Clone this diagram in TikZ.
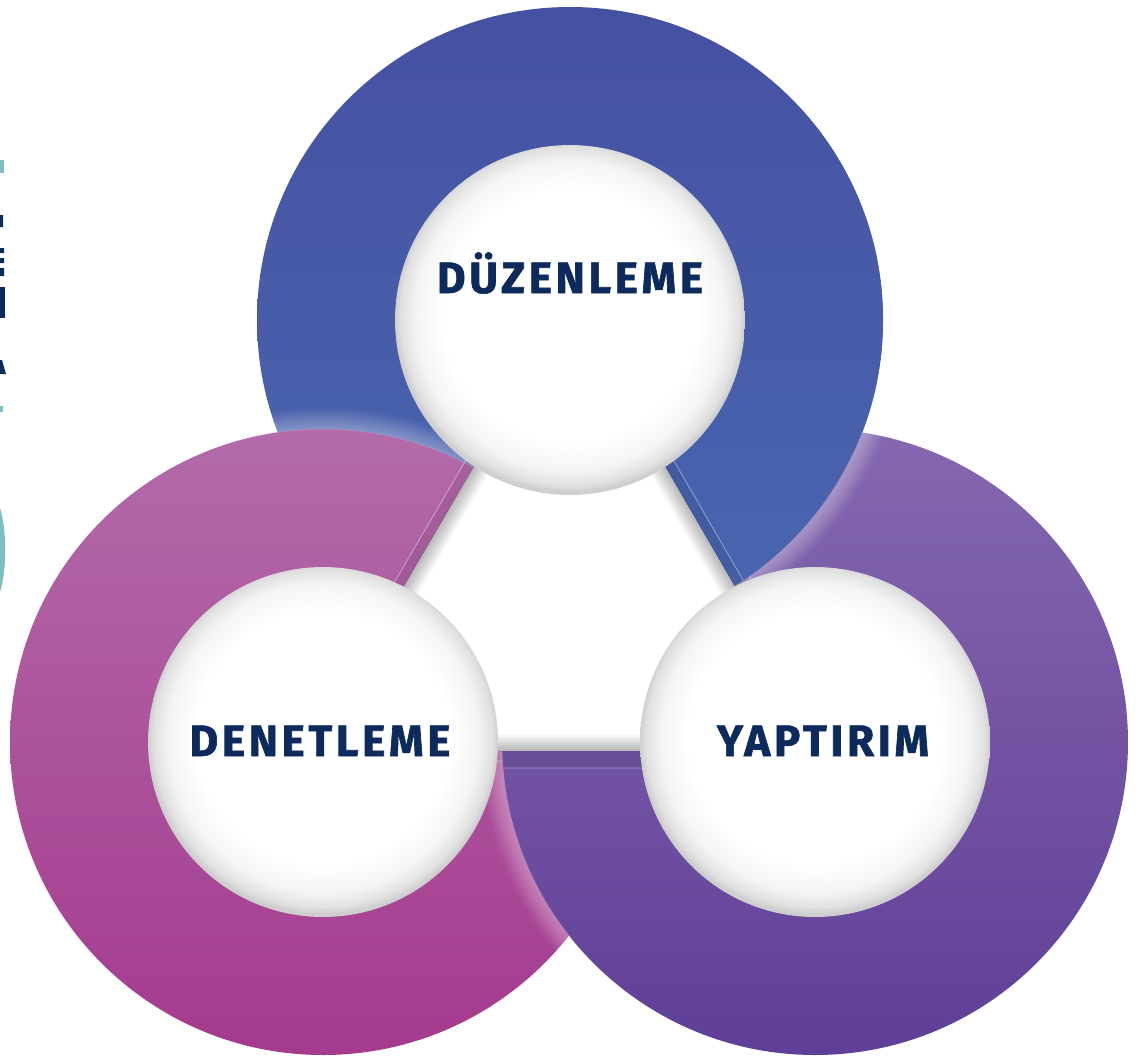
\documentclass[tikz,border=0pt]{standalone}
\usepackage{fontspec}
\setmainfont{Fira Sans}
\usetikzlibrary{calc}

\definecolor{duzTop}{HTML}{4551A1}
\definecolor{duzBot}{HTML}{4A67B1}
\definecolor{denTop}{HTML}{B36BAA}
\definecolor{denBot}{HTML}{A53A8F}
\definecolor{yapTop}{HTML}{8568AF}
\definecolor{yapBot}{HTML}{5F3F97}
\definecolor{navy}{HTML}{0C2A5B}
\definecolor{sea}{HTML}{7CBEC3}

\pgfdeclareradialshading{sphere}{\pgfpoint{0bp}{1bp}}{color(0bp)=(white); color(18bp)=(white); color(22bp)=(black!4); color(24.2bp)=(black!12); color(25bp)=(black!19); color(50bp)=(black!19)}

% one ring: centre, top colour, bottom colour, fold factor
\newcommand\ring[4]{%
  \begin{scope}[even odd rule]
    \clip (#1) circle[radius=313];
    \clip (-50,-50) rectangle (1200,1110) (tTop) -- (tLeft) -- (tRight) -- cycle;
    \shade[top color=#2, bottom color=#3] ($(#1)+(-313,-313)$) rectangle ($(#1)+(313,313)$);
    \fill[black, opacity=.07] ($(g)!#4!(tTop)$) -- ($(g)!#4!(tLeft)$) -- ($(g)!#4!(tRight)$) -- cycle;
    \draw[white, opacity=.4, line width=.5pt] ($(g)!#4!(tTop)$) -- ($(g)!#4!(tLeft)$) -- ($(g)!#4!(tRight)$) -- cycle;
  \end{scope}}

% glassy rim of the upper ring over the lower one
\newcommand\glint[2]{%
  \begin{scope}[even odd rule]
    \clip (#2) circle[radius=313];
    \clip (-50,-50) rectangle (1200,1110) (tTop) -- (tLeft) -- (tRight) -- cycle;
    \foreach \k/\o in {1/.30,2/.27,3/.24,4/.21,5/.17,6/.13,7/.09,8/.05,9/.02}
      \draw[white, opacity=\o, line width=.05cm] (#1) circle[radius=311.5+2.5*\k];
  \end{scope}}

\begin{document}
\begin{tikzpicture}[x=0.02cm,y=-0.02cm,
    ball/.style={circle, minimum size=7cm, inner sep=0pt, shade, shading=sphere},
    word/.style={font=\fontsize{25}{25}\selectfont\bfseries\addfontfeatures{LetterSpace=8.5,FakeBold=1.4}, text=navy, anchor=base, inner sep=0pt}]
  \useasboundingbox (0,0) rectangle (1147,1059);

  \coordinate (cDuz) at (570,320);
  \coordinate (cDen) at (323,742);
  \coordinate (cYap) at (815,742);
  \coordinate (tTop) at (570,302);
  \coordinate (tLeft) at (307.4,751);
  \coordinate (tRight) at (830.6,751);
  \coordinate (g) at (569.3,601.3);

  % rings, each one over the next
  \ring{cDuz}{duzTop}{duzBot}{1.0668}
  \ring{cDen}{denTop}{denBot}{1.0668}
  \glint{cDen}{cDuz}
  \ring{cYap}{yapTop}{yapBot}{1.1136}
  \glint{cYap}{cDen}
  \begin{scope}
    \clip (640,0) rectangle (1147,700);
    \ring{cDuz}{duzTop}{duzBot}{1.0668}
  \end{scope}
  \glint{cDuz}{cYap}

  % shadow in the middle gap
  \foreach \k in {0,...,7}{
    \pgfmathsetmacro\f{(148.7-2*\k)/149.7}
    \pgfmathsetmacro\o{0.26-0.032*\k}
    \draw[black, opacity=\o, line width=.04cm] ($(g)!\f!(tTop)$) -- ($(g)!\f!(tLeft)$) -- ($(g)!\f!(tRight)$) -- cycle;
  }

  \node[ball] (duz) at (cDuz) {};
  \node[ball] (den) at (cDen) {};
  \node[ball] (yap) at (cYap) {};

  \node[word] (duzWord) at (570,293) {DÜZENLEME};
  \node[word] (denWord) at (320,756) {DENETLEME};
  \node[word] (yapWord) at (823,756) {YAPTIRIM};

  % cut-off bits at the left edge
  \fill[sea] (0,160) rectangle (4,173);
  \fill[navy] (0,215) rectangle (3,227) (0,248) rectangle (4,253) (0,258) rectangle (4,263) (0,268) rectangle (4,276);
  \fill[navy] (0,287) rectangle (5,318);
  \fill[navy] (0,360) -- (2,360) -- (6,374) -- (0,374) -- cycle;
  \fill[sea] (0,406) rectangle (3,412);
  \fill[sea] (0,508) .. controls (7,530) and (7,570) .. (0,592) -- cycle;
\end{tikzpicture}
\end{document}
